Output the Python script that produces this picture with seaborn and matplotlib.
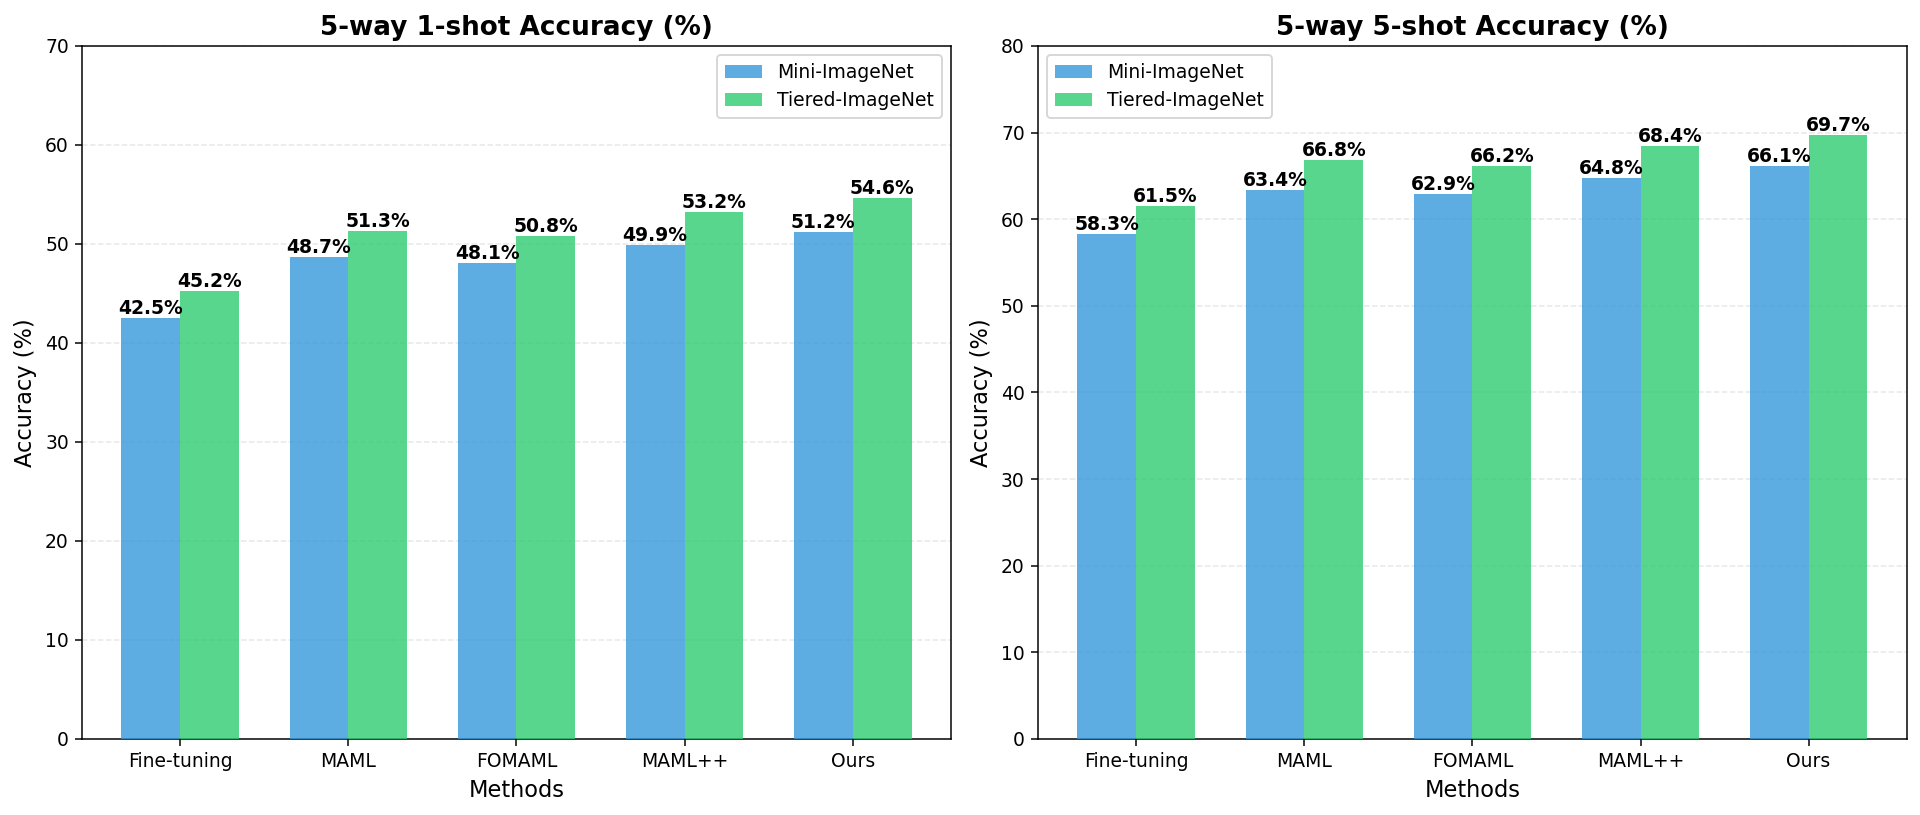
import pandas as pd
import matplotlib
matplotlib.use("Agg")
import matplotlib.pyplot as plt
import seaborn as sns

# data
methods = ["Fine-tuning", "MAML", "FOMAML", "MAML++", "Ours"]
datasets = ["Mini-ImageNet", "Tiered-ImageNet"]
mini_1shot = [42.5, 48.7, 48.1, 49.9, 51.2]
tiered_1shot = [45.2, 51.3, 50.8, 53.2, 54.6]
mini_5shot = [58.3, 63.4, 62.9, 64.8, 66.1]
tiered_5shot = [61.5, 66.8, 66.2, 68.4, 69.7]

palette = {"Mini-ImageNet": "#3498db", "Tiered-ImageNet": "#2ecc71"}


def to_long(mini, tiered):
    return pd.DataFrame({
        "Method": methods * 2,
        "Dataset": [datasets[0]] * len(methods) + [datasets[1]] * len(methods),
        "Accuracy": mini + tiered,
    })


dpi = 135
fig, axes = plt.subplots(1, 2, figsize=(1920 / dpi, 815 / dpi), dpi=dpi)

panels = [
    (axes[0], to_long(mini_1shot, tiered_1shot), "5-way 1-shot Accuracy (%)", 70, "upper right"),
    (axes[1], to_long(mini_5shot, tiered_5shot), "5-way 5-shot Accuracy (%)", 80, "upper left"),
]

for ax, df, title, ymax, loc in panels:
    sns.barplot(data=df, x="Method", y="Accuracy", hue="Dataset", palette=palette,
                width=0.7, alpha=0.8, errorbar=None, saturation=1, ax=ax, zorder=3)
    for c in ax.containers:
        ax.bar_label(c, fmt="%.1f%%", fontsize=10, fontweight="bold", padding=0)
    ax.set_title(title, fontsize=14, fontweight="bold")
    ax.set_xlabel("Methods", fontsize=12)
    ax.set_ylabel("Accuracy (%)", fontsize=12)
    # default matplotlib x margins instead of seaborn's fixed categorical limits
    ax.autoscale(enable=True, axis="x")
    ax.margins(x=0.05)
    ax.autoscale_view(scaley=False)
    ax.set_ylim(0, ymax)
    ax.yaxis.grid(True, linestyle="--", alpha=0.3, zorder=0)
    ax.set_axisbelow(True)
    ax.legend(loc=loc, fontsize=10, title=None)

plt.subplots_adjust(left=0.0427, right=0.9932, top=0.9436, bottom=0.0933, wspace=0.1)
plt.savefig("out.png", dpi=dpi)
